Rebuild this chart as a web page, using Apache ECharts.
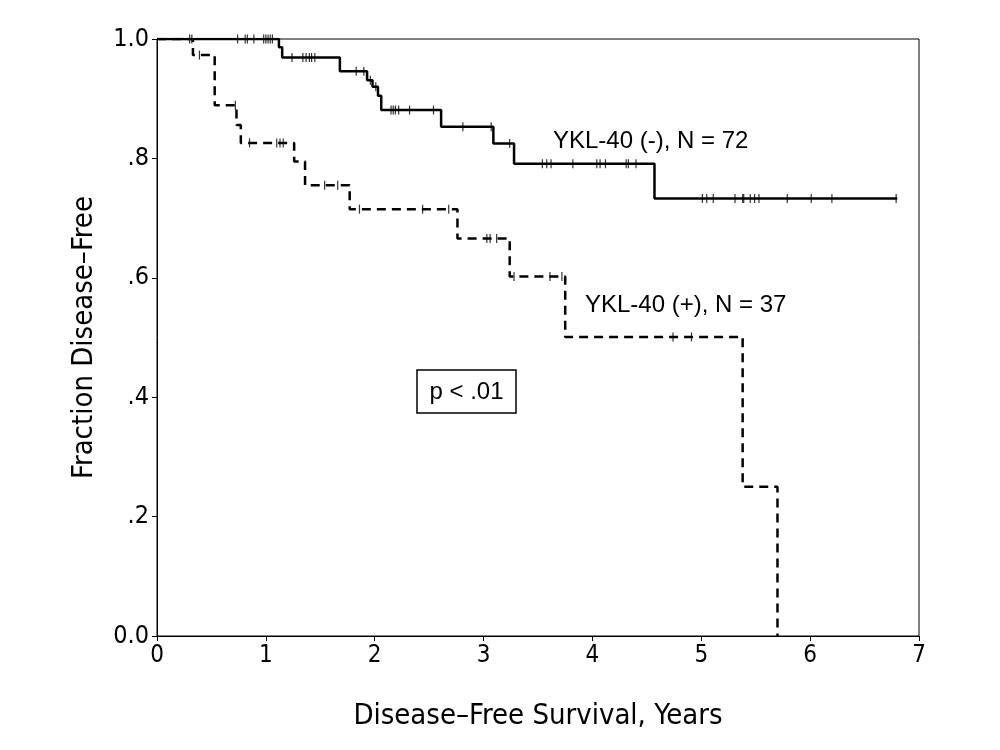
<!DOCTYPE html>
<html>
<head>
<meta charset="utf-8">
<script src="https://cdn.jsdelivr.net/npm/echarts@6/dist/echarts.min.js"></script>
<style>html,body{margin:0;padding:0;background:#fff}#c{width:1000px;height:750px}</style>
</head>
<body>
<div id="c"></div>
<script>
// YKL-40 (-) curve: event times and survival after each step
var negTimes = [0, 1.12, 1.15, 1.68, 1.93, 1.98, 2.03, 2.06, 2.61, 3.09, 3.28, 4.57, 6.80];
var negSurv  = [1.0, 0.986, 0.969, 0.946, 0.931, 0.920, 0.905, 0.881, 0.853, 0.825, 0.791, 0.733, 0.733];
var negCensor = [0.74, 0.81, 0.83, 0.89, 0.98, 1.00, 1.02, 1.04, 1.06, 1.24, 1.34, 1.37, 1.40, 1.42, 1.45,
  1.83, 1.90, 1.96, 2.01, 2.15, 2.17, 2.19, 2.22, 2.32, 2.54, 2.81, 3.07, 3.24, 3.54, 3.58, 3.62, 3.82,
  4.04, 4.07, 4.12, 4.31, 4.33, 4.40, 5.01, 5.05, 5.11, 5.31, 5.38, 5.39, 5.45, 5.49, 5.53, 5.79, 6.01, 6.20, 6.79];

// YKL-40 (+) curve
var posTimes = [0, 0.33, 0.53, 0.73, 0.77, 1.26, 1.36, 1.77, 2.76, 3.24, 3.75, 5.38, 5.70];
var posSurv  = [1.0, 0.973, 0.889, 0.856, 0.826, 0.795, 0.755, 0.715, 0.666, 0.602, 0.501, 0.25, 0.0];
var posCensor = [0.30, 0.32, 0.39, 0.72, 0.85, 1.10, 1.13, 1.16, 1.54, 1.66, 1.86, 2.44, 2.68,
  3.03, 3.06, 3.12, 3.28, 3.61, 3.72, 4.74, 4.91];

var yTickLabels = ['0.0', '.2', '.4', '.6', '.8', '1.0'];
var xTickLabels = ['0', '1', '2', '3', '4', '5', '6', '7'];

function pairs(ts, ss) { return ts.map(function (t, i) { return [t, ss[i]]; }); }
function survAt(ts, ss, t) {
  var v = ss[0];
  for (var i = 0; i < ts.length; i++) { if (ts[i] <= t) v = ss[i]; }
  return v;
}
function censorPts(cs, ts, ss) { return cs.map(function (t) { return [t, survAt(ts, ss, t)]; }); }

var chart = echarts.init(document.getElementById('c'), null, { renderer: 'canvas' });
var axisFont = '"DejaVu Sans Condensed", "DejaVu Sans", sans-serif';
var annFont = '"Liberation Sans", Arial, sans-serif';

chart.setOption({
  animation: false,
  backgroundColor: '#fff',
  grid: { left: 157, right: 81, top: 39, bottom: 114, show: true, borderColor: '#000', borderWidth: 1 },
  xAxis: {
    type: 'value', min: 0, max: 7, interval: 1,
    name: 'Disease–Free Survival, Years', nameLocation: 'middle', nameGap: 66,
    nameTextStyle: { fontFamily: axisFont, fontSize: 29, color: '#000' },
    axisLine: { show: true, lineStyle: { color: '#000', width: 1 } },
    axisTick: { show: true, inside: false, length: 5, lineStyle: { color: '#000' } },
    axisLabel: { fontFamily: axisFont, fontSize: 24, color: '#000', margin: 8,
      formatter: function (v) { return xTickLabels[Math.round(v)]; } },
    splitLine: { show: false }
  },
  yAxis: {
    type: 'value', min: 0, max: 1, interval: 0.2,
    name: 'Fraction Disease–Free', nameLocation: 'middle', nameGap: 58,
    nameTextStyle: { fontFamily: axisFont, fontSize: 29, color: '#000' },
    axisLine: { show: true, lineStyle: { color: '#000', width: 1 } },
    axisTick: { show: true, inside: false, length: 5, lineStyle: { color: '#000' } },
    axisLabel: { fontFamily: axisFont, fontSize: 25, color: '#000', margin: 8,
      formatter: function (v) { return yTickLabels[Math.round(v * 5)]; } },
    splitLine: { show: false }
  },
  series: [
    { name: 'YKL-40 (-)', type: 'line', step: 'end', symbol: 'none', data: pairs(negTimes, negSurv),
      lineStyle: { color: '#000', width: 2.5 } },
    { name: 'YKL-40 (+)', type: 'line', step: 'end', symbol: 'none', data: pairs(posTimes, posSurv),
      lineStyle: { color: '#000', width: 2.5, type: [9, 6] } },
    { name: 'neg censored', type: 'scatter', symbol: 'rect', symbolSize: [1.2, 9],
      itemStyle: { color: '#000' }, data: censorPts(negCensor, negTimes, negSurv) },
    { name: 'pos censored', type: 'scatter', symbol: 'rect', symbolSize: [1.2, 9],
      itemStyle: { color: '#000' }, data: censorPts(posCensor, posTimes, posSurv) }
  ],
  graphic: [
    { type: 'text', x: 553, y: 141, style: { text: 'YKL-40 (-), N = 72', font: '24px ' + annFont, fill: '#000', verticalAlign: 'middle' } },
    { type: 'text', x: 585, y: 305, style: { text: 'YKL-40 (+), N = 37', font: '24px ' + annFont, fill: '#000', verticalAlign: 'middle' } },
    { type: 'rect', shape: { x: 417, y: 370, width: 99, height: 43 }, style: { fill: '#fff', stroke: '#000', lineWidth: 1.5 } },
    { type: 'text', x: 466.5, y: 392, style: { text: 'p < .01', font: '24px ' + annFont, fill: '#000', align: 'center', verticalAlign: 'middle' } }
  ]
});
</script>
</body>
</html>
